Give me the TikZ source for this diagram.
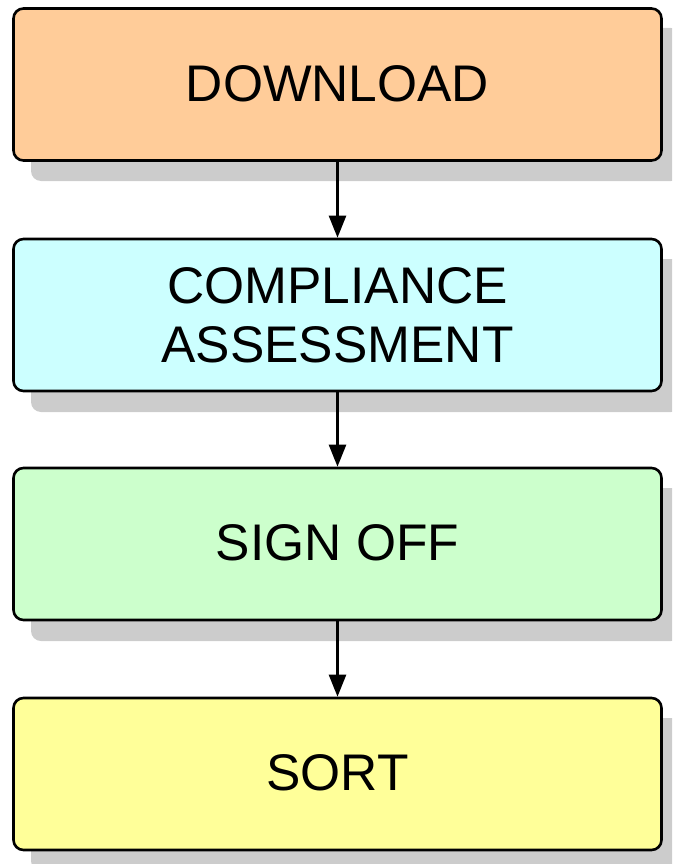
\documentclass[tikz,border=0pt]{standalone}
\usepackage{fontspec}
\setmainfont{Liberation Sans}
\usetikzlibrary{arrows.meta}
\definecolor{cDown}{HTML}{FFCC99}
\definecolor{cComp}{HTML}{CCFFFF}
\definecolor{cSign}{HTML}{CCFFCC}
\definecolor{cSort}{HTML}{FFFF99}
\definecolor{cShad}{HTML}{CCCCCC}
\tikzset{
  stepbox/.style={draw=black, line width=2.6pt, rounded corners=10pt,
    minimum width=648pt, minimum height=152pt, inner sep=0pt,
    align=center, font=\fontsize{51.5}{59}\selectfont},
  shadowbox/.style={fill=cShad, rounded corners=10pt},
  flow/.style={line width=2.4pt, -{Triangle[length=22pt,width=17pt]}}
}
\begin{document}
\begin{tikzpicture}[x=1pt,y=-1pt]
\useasboundingbox (0,0) rectangle (672,864);
\clip (0,0) rectangle (672,864);
\foreach \t in {8,239,468,698}{
  \fill[shadowbox] (31,\t+20) rectangle (681,\t+173);
}
\node[stepbox, fill=cDown] (a) at (337.5,84.5) {\raisebox{2pt}{DOWNLOAD}};
\node[stepbox, fill=cComp] (b) at (337.5,315) {COMPLIANCE\\ASSESSMENT};
\node[stepbox, fill=cSign] (c) at (337.5,544) {\raisebox{2pt}{SIGN OFF}};
\node[stepbox, fill=cSort] (d) at (337.5,774) {\raisebox{2pt}{SORT}};
\draw[flow] (a) -- (b);
\draw[flow] (b) -- (c);
\draw[flow] (c) -- (d);
\end{tikzpicture}
\end{document}
